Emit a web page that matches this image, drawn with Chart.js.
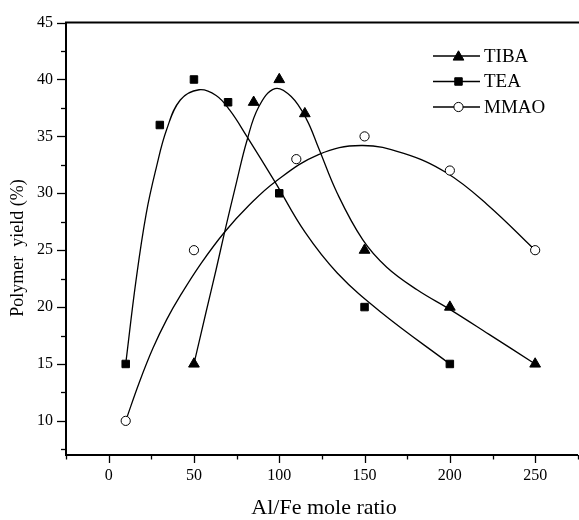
<!DOCTYPE html>
<html>
<head>
<meta charset="utf-8">
<script src="https://cdn.jsdelivr.net/npm/chart.js@4"></script>
<style>
  html, body { margin: 0; padding: 0; background: #fff; overflow: hidden; }
  #wrap { width: 585px; height: 520px; }
</style>
</head>
<body>
<div id="wrap"><canvas id="c" width="585" height="520"></canvas></div>
<script>
// ---- data ----
const seriesNames = ['TIBA', 'TEA', 'MMAO'];

const tibaX = [50, 85, 100, 115, 150, 200, 250];
const tibaY = [15, 38, 40, 37, 25, 20, 15];

const teaX = [10, 30, 50, 70, 100, 150, 200];
const teaY = [15, 36, 40, 38, 30, 20, 15];

const mmaoX = [10, 50, 110, 150, 200, 250];
const mmaoY = [10, 25, 33, 35, 32, 25];

// fitted curves
const tibaFitX = [50, 57, 63, 68, 75, 81, 88, 97.5, 107, 116, 123, 134, 149, 163, 181, 200, 223, 250];
const tibaFitY = [15, 19.5, 23.3, 26.6, 31.0, 34.6, 37.6, 39.2, 38.5, 36.5, 34.0, 30.0, 25.9, 23.5, 21.5, 19.8, 17.6, 15];

const teaFitX = [10, 16, 22, 28, 34, 42, 53, 63, 71, 81, 97.5, 115, 134, 160, 200];
const teaFitY = [15, 22.3, 28.2, 32.3, 35.6, 38.2, 39.1, 38.6, 37.3, 35.0, 31.0, 26.6, 23.0, 19.5, 15];

const mmaoFitX = [10, 18, 26, 34, 42, 54, 68, 82, 97.5, 123, 148, 173, 198, 222, 250];
const mmaoFitY = [10, 13.4, 16.4, 18.9, 21.0, 23.8, 26.6, 28.9, 31.0, 33.4, 34.2, 33.5, 31.8, 29.0, 25];

const xTickValues = [0, 50, 100, 150, 200, 250];
const xTickLabels = ['0', '50', '100', '150', '200', '250'];
const yTickValues = [10, 15, 20, 25, 30, 35, 40, 45];
const yTickLabels = ['10', '15', '20', '25', '30', '35', '40', '45'];

const xTitle = 'Al/Fe mole ratio';
const yTitle = 'Polymer  yield (%)';

// ---- helpers ----
const zip = (xs, ys) => xs.map((x, i) => ({ x: x, y: ys[i] }));
const SERIF = '"Liberation Serif", "DejaVu Serif", serif';

const markerStyles = [
  { pointStyle: 'triangle', radius: 6.2, fill: '#000' },
  { pointStyle: 'rect', radius: 5.3, fill: '#000' },
  { pointStyle: 'circle', radius: 4.6, fill: '#fff' }
];

function curveDs(data) {
  return {
    data: data, showLine: true, pointRadius: 0, pointHoverRadius: 0,
    borderColor: '#000', borderWidth: 1.3, fill: false,
    tension: 0.4, order: 2
  };
}
function pointDs(data, m) {
  return {
    data: data, showLine: false, pointStyle: m.pointStyle,
    pointRadius: m.radius, pointHoverRadius: m.radius,
    pointBackgroundColor: m.fill, pointBorderColor: '#000',
    pointBorderWidth: 1, order: 1
  };
}

function drawMarker(ctx, style, x, y, r, fill) {
  ctx.save();
  ctx.beginPath();
  if (style === 'triangle') {
    ctx.moveTo(x, y - r);
    ctx.lineTo(x + Math.sin(Math.PI * 2 / 3) * r, y - Math.cos(Math.PI * 2 / 3) * r);
    ctx.lineTo(x + Math.sin(Math.PI * 4 / 3) * r, y - Math.cos(Math.PI * 4 / 3) * r);
    ctx.closePath();
  } else if (style === 'rect') {
    const s = Math.SQRT1_2 * r;
    ctx.rect(x - s, y - s, 2 * s, 2 * s);
  } else {
    ctx.arc(x, y, r, 0, Math.PI * 2);
  }
  ctx.fillStyle = fill;
  ctx.fill();
  ctx.lineWidth = 1;
  ctx.strokeStyle = '#000';
  ctx.stroke();
  ctx.restore();
}

const decorPlugin = {
  id: 'decor',
  afterDraw(chart) {
    const ctx = chart.ctx;
    const a = chart.chartArea;
    const xs = chart.scales.x, ys = chart.scales.y;
    ctx.save();
    // top frame line
    ctx.strokeStyle = '#000';
    ctx.lineWidth = 2;
    ctx.beginPath();
    ctx.moveTo(a.left - 1, a.top);
    ctx.lineTo(chart.width, a.top);
    ctx.stroke();

    // tick marks (major + minor) from the scales
    ctx.lineWidth = 1.3;
    for (let v = -25; v <= 275; v += 25) {
      const px = Math.round(xs.getPixelForValue(v)) + 0.5;
      const major = (v % 50 === 0);
      ctx.beginPath();
      ctx.moveTo(px, a.bottom);
      ctx.lineTo(px, a.bottom + (major ? 8 : 4.5));
      ctx.stroke();
    }
    for (let v = 7.5; v <= 45; v += 2.5) {
      const py = Math.round(ys.getPixelForValue(v)) + 0.5;
      const major = (v % 5 === 0);
      ctx.beginPath();
      ctx.moveTo(a.left, py);
      ctx.lineTo(a.left - (major ? 9 : 5), py);
      ctx.stroke();
    }

    // axis titles
    ctx.fillStyle = '#000';
    ctx.textAlign = 'center';
    ctx.textBaseline = 'middle';
    ctx.font = '22px ' + SERIF;
    ctx.fillText(xTitle, (a.left + 582) / 2, 508);
    ctx.save();
    ctx.translate(18, 248);
    ctx.rotate(-Math.PI / 2);
    ctx.font = '18px ' + SERIF;
    ctx.fillText(yTitle, 0, 0);
    ctx.restore();

    // legend
    const rows = [56, 81.5, 107];
    ctx.font = '19px ' + SERIF;
    ctx.textAlign = 'left';
    seriesNames.forEach((name, i) => {
      const y = rows[i];
      ctx.lineWidth = 1.3;
      ctx.beginPath();
      ctx.moveTo(433, y);
      ctx.lineTo(480, y);
      ctx.stroke();
      const m = markerStyles[i];
      const dy = m.pointStyle === 'triangle' ? 1 : 0;
      drawMarker(ctx, m.pointStyle, 458.5, y + dy, m.radius, m.fill);
      ctx.fillStyle = '#000';
      ctx.fillText(name, 484, y + 1);
    });
    ctx.restore();
  }
};

new Chart(document.getElementById('c'), {
  type: 'scatter',
  data: {
    datasets: [
      curveDs(zip(tibaFitX, tibaFitY)),
      curveDs(zip(teaFitX, teaFitY)),
      curveDs(zip(mmaoFitX, mmaoFitY)),
      pointDs(zip(tibaX, tibaY), markerStyles[0]),
      pointDs(zip(teaX, teaY), markerStyles[1]),
      pointDs(zip(mmaoX, mmaoY), markerStyles[2])
    ]
  },
  options: {
    responsive: false,
    animation: false,
    events: [],
    layout: { padding: { top: 21, right: 3, left: 0, bottom: 0 } },
    plugins: { legend: { display: false }, tooltip: { enabled: false } },
    scales: {
      x: {
        type: 'linear', min: -25, max: 275,
        afterFit: s => { s.height = 65; },
        afterBuildTicks: s => { s.ticks = xTickValues.map(v => ({ value: v })); },
        grid: { display: false, drawTicks: false },
        border: { display: true, color: '#000', width: 2 },
        ticks: {
          color: '#000', padding: 11, maxRotation: 0, autoSkip: false,
          font: { family: SERIF, size: 16 },
          callback: (v) => { const i = xTickValues.indexOf(v); return i >= 0 ? xTickLabels[i] : ''; }
        },
        title: { display: false }
      },
      y: {
        type: 'linear', min: 7, max: 45,
        afterFit: s => { s.width = 66; },
        afterBuildTicks: s => { s.ticks = yTickValues.map(v => ({ value: v })); },
        grid: { display: false, drawTicks: false },
        border: { display: true, color: '#000', width: 2 },
        ticks: {
          color: '#000', padding: 13, autoSkip: false,
          font: { family: SERIF, size: 16 },
          callback: (v) => { const i = yTickValues.indexOf(v); return i >= 0 ? yTickLabels[i] : ''; }
        },
        title: { display: false }
      }
    }
  },
  plugins: [decorPlugin]
});
</script>
</body>
</html>
